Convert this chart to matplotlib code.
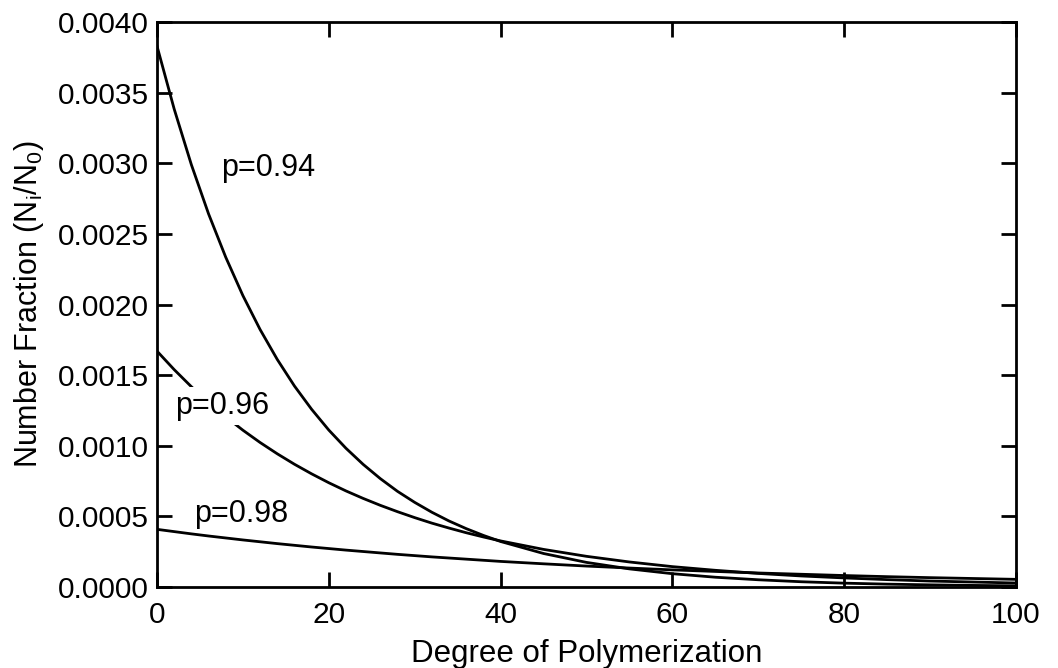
import matplotlib
matplotlib.use("Agg")
import matplotlib.pyplot as plt

plt.rcParams['font.family'] = ['Liberation Sans', 'DejaVu Sans']
plt.rcParams['mathtext.fontset'] = 'custom'
plt.rcParams['mathtext.rm'] = 'Liberation Sans'
plt.rcParams['mathtext.it'] = 'Liberation Sans'

# degree of polymerization (read positions)
dp = [0, 2, 4, 6, 8, 10, 12, 14, 16, 18, 20, 22, 24, 26, 28, 30, 32, 34, 36, 38, 40,
      45, 50, 55, 60, 65, 70, 75, 80, 85, 90, 95, 100]

# number fraction
frac_094 = [0.003830, 0.003384, 0.002990, 0.002642, 0.002335, 0.002063, 0.001823,
            0.001611, 0.001423, 0.001258, 0.001111, 0.000982, 0.000868, 0.000767,
            0.000677, 0.000599, 0.000529, 0.000467, 0.000413, 0.000365, 0.000322,
            0.000237, 0.000174, 0.000128, 0.000094, 0.000069, 0.000051, 0.000037,
            0.000027, 0.000020, 0.000015, 0.000011, 0.000008]
frac_096 = [0.001670, 0.001539, 0.001418, 0.001307, 0.001205, 0.001110, 0.001023,
            0.000943, 0.000869, 0.000801, 0.000738, 0.000680, 0.000627, 0.000578,
            0.000533, 0.000491, 0.000452, 0.000417, 0.000384, 0.000354, 0.000326,
            0.000266, 0.000217, 0.000177, 0.000144, 0.000118, 0.000096, 0.000078,
            0.000064, 0.000052, 0.000042, 0.000035, 0.000028]
frac_098 = [0.000408, 0.000392, 0.000376, 0.000361, 0.000347, 0.000333, 0.000320,
            0.000307, 0.000295, 0.000283, 0.000272, 0.000261, 0.000251, 0.000241,
            0.000231, 0.000222, 0.000213, 0.000205, 0.000197, 0.000189, 0.000181,
            0.000164, 0.000148, 0.000134, 0.000121, 0.000110, 0.000099, 0.000090,
            0.000081, 0.000073, 0.000066, 0.000060, 0.000054]

x_ticks = [0, 20, 40, 60, 80, 100]
y_ticks = [0.0, 0.0005, 0.0010, 0.0015, 0.0020, 0.0025, 0.0030, 0.0035, 0.0040]

fig = plt.figure(figsize=(10.58, 6.68), dpi=100)
ax = fig.add_axes([0.1484, 0.1213, 0.8119, 0.8457])

for ys in (frac_094, frac_096, frac_098):
    ax.plot(dp, ys, color="black", linewidth=2, zorder=2)

# curve labels (white box hides the line behind p=0.96)
ax.text(12.9, 0.00297, "p=0.94", fontsize=22, ha="center", va="center", zorder=3)
ax.text(7.6, 0.00128, "p=0.96", fontsize=22, ha="center", va="center", zorder=3,
        bbox=dict(facecolor="white", edgecolor="none", pad=3))
ax.text(9.8, 0.00052, "p=0.98", fontsize=22, ha="center", va="center", zorder=3)

ax.set_xlim(0, 100)
ax.set_ylim(0, 0.004)
ax.set_xticks(x_ticks)
ax.set_yticks(y_ticks)
ax.set_xticklabels([str(v) for v in x_ticks])
ax.set_yticklabels([f"{v:.4f}" for v in y_ticks])
ax.tick_params(direction="in", length=11, width=2, labelsize=21.5,
               top=True, right=True)
ax.tick_params(axis="x", pad=10)
ax.tick_params(axis="y", pad=6)
for s in ax.spines.values():
    s.set_linewidth(2)

ax.set_xlabel("Degree of Polymerization", fontsize=22.5, labelpad=7)
ax.set_ylabel("Number Fraction (N$_i$/N$_0$)", fontsize=22, labelpad=8)

fig.savefig("out.png", dpi=100)
